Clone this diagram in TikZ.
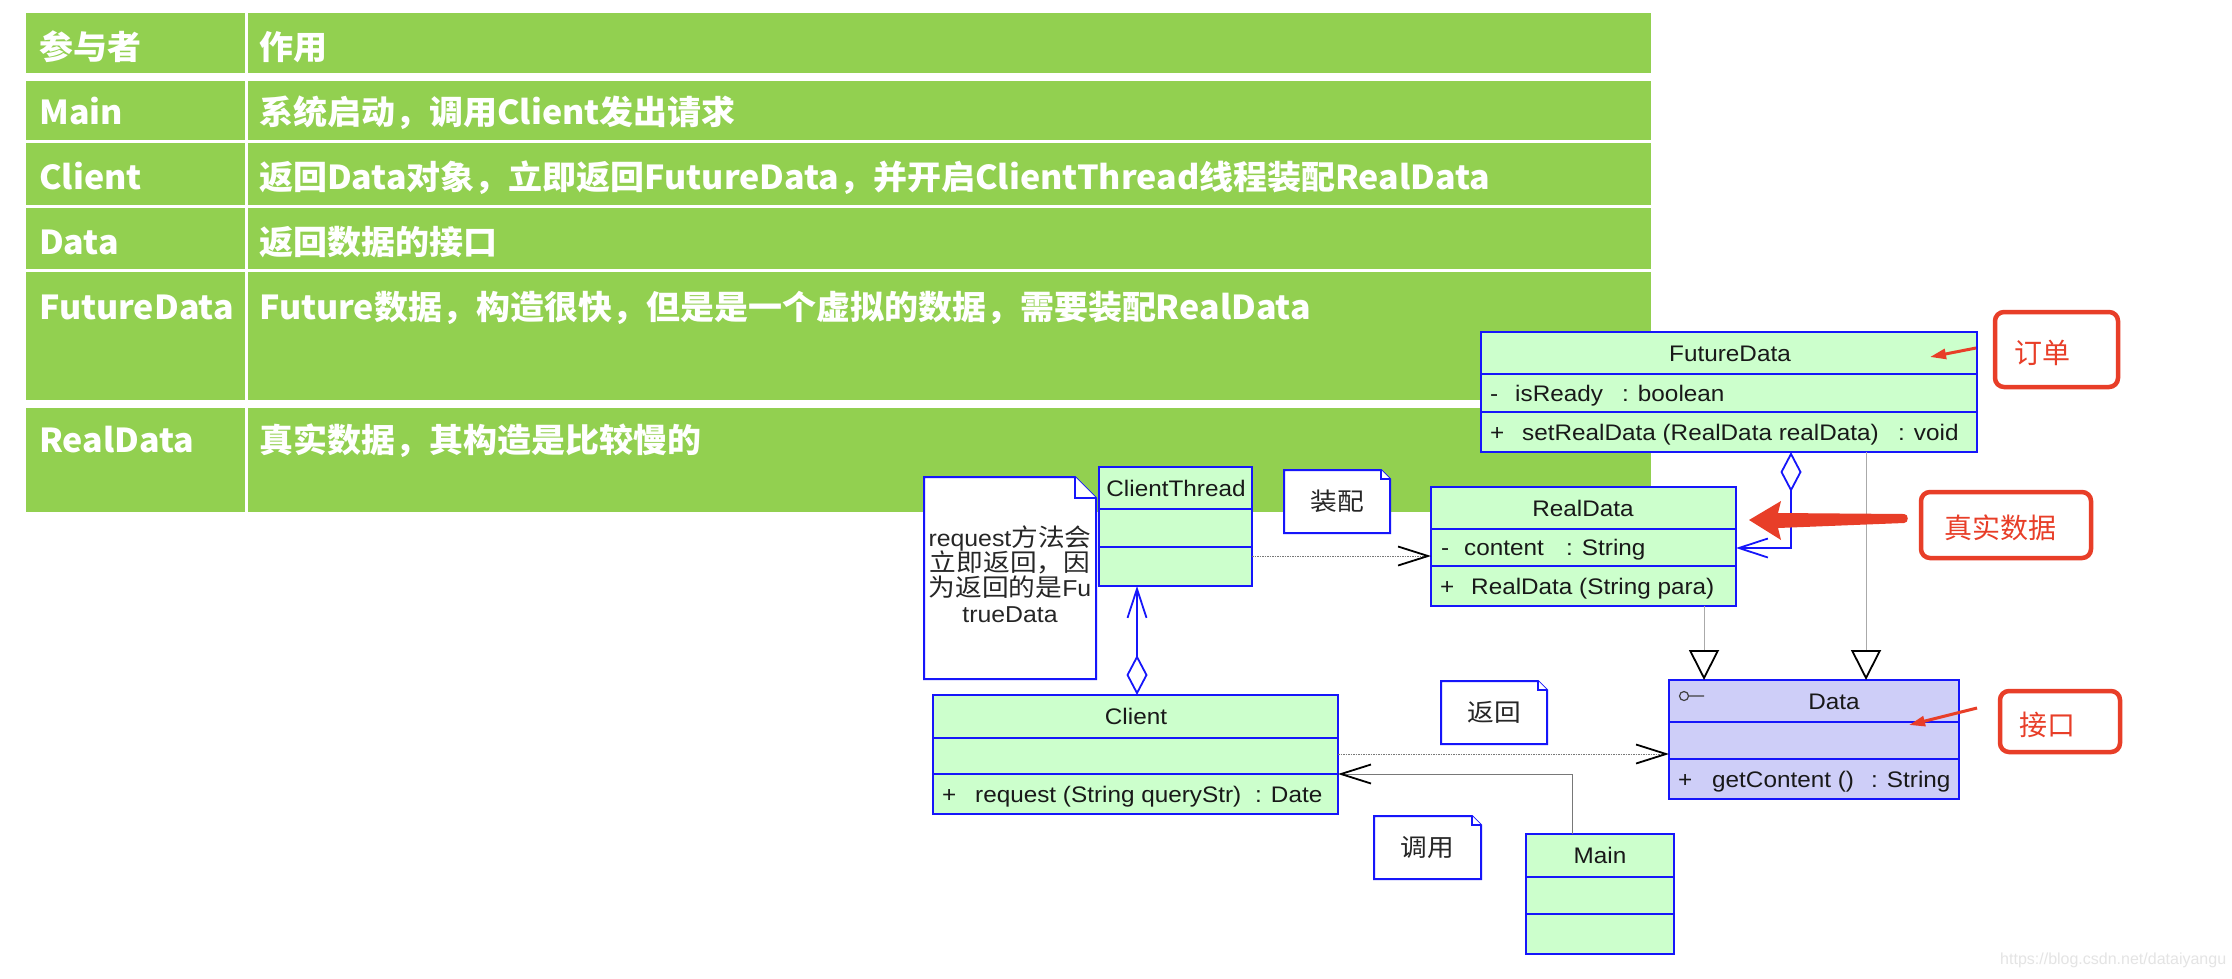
\documentclass[tikz,border=0pt]{standalone}
\usepackage{fontspec}
\setmainfont{Liberation Sans}
\newfontfamily\umlf[FakeStretch=1.08]{Liberation Sans}
\newfontfamily\tabf[FakeStretch=1.03]{Noto Sans CJK SC}
\newfontfamily\cjkn[FakeStretch=1.09]{Noto Sans CJK SC}
\newfontfamily\cjkr{Noto Sans CJK SC}
\usetikzlibrary{arrows.meta,calc}
\definecolor{tgreen}{RGB}{146,208,80}
\definecolor{ufill}{RGB}{204,255,204}
\definecolor{ublue}{RGB}{22,22,250}
\definecolor{dfill}{RGB}{206,206,248}
\definecolor{rred}{RGB}{232,62,40}
\definecolor{dgray}{RGB}{120,120,120}
\definecolor{lgray}{RGB}{170,170,170}
\definecolor{wm}{RGB}{228,228,228}
\tikzset{
  tabtxt/.style={anchor=west, inner sep=0pt, text=white, font=\tabf\bfseries\fontsize{33}{38}\selectfont, text height=29pt, text depth=4pt},
  cls/.style={draw=ublue, line width=2pt, fill=ufill, inner sep=0pt, outer sep=0pt, anchor=north west},
  clsline/.style={draw=ublue, line width=2pt},
  ut/.style={inner sep=0pt, text=black!90, font=\umlf\fontsize{22.5}{27}\selectfont, text height=19pt, text depth=3pt},
  utw/.style={ut, anchor=west},
  notest/.style={draw=ublue, line width=2pt, fill=white, line join=miter},
  nt/.style={inner sep=0pt, text=black!85, font=\umlf\fontsize{23}{25}\selectfont, text height=21pt, text depth=3pt},
  redbox/.style={draw=rred, line width=4.5pt, rounded corners=9pt, inner sep=0pt, fill=white},
  redtxt/.style={inner sep=0pt, text=rred, font=\cjkr\fontsize{28}{30}\selectfont, text height=24pt, text depth=3.5pt},
  dep/.style={draw=dgray, line width=1pt, dash pattern=on 1.5pt off 1pt, -{Straight Barb[length=30pt,width=19pt,line width=1.8pt,black]}},
  assoc/.style={draw=dgray, line width=1pt, -{Straight Barb[length=30pt,width=19pt,line width=1.8pt,black]}},
  gen/.style={draw=lgray, line width=1pt, -{Triangle[open,fill=white,length=30pt,width=30pt,line width=1.8pt,black]}},
  aggr/.style={draw=ublue, line width=1.5pt, {Diamond[open,fill=white,length=40pt,width=21pt,line width=1.8pt]}-{Straight Barb[length=29pt,width=19pt,line width=1.8pt]}},
  redarr/.style={draw=rred, line width=3pt, -{Triangle[length=16pt,width=10pt]}}
}
\newcommand{\notebox}[5]{%
  \filldraw[notest] (#1,#2) -- ({#3-#5},#2) -- (#3,{#2+#5}) -- (#3,#4) -- (#1,#4) -- cycle;
  \draw[notest] ({#3-#5},#2) -- ({#3-#5},{#2+#5}) -- (#3,{#2+#5});}
\newcommand{\cn}[1]{{\cjkn\fontsize{24.5}{25}\selectfont #1}}
\begin{document}
\begin{tikzpicture}[x=1pt,y=-1pt]
\useasboundingbox (0,0) rectangle (2232,978);
\fill[white] (0,0) rectangle (2232,978);

% ---------- table ----------
\foreach \a/\b in {13/73,81/140,143/205,208/269,272/400,408/512} {\fill[tgreen] (26,\a) rectangle (1651,\b);}
\fill[white] (244.5,13) rectangle (247.5,512);

\node[tabtxt] (h1) at (39,47) {参与者};
\node[tabtxt] (h2) at (259,47) {作用};
\node[tabtxt] (m1) at (39,112) {Main};
\node[tabtxt] (m2) at (259,112) {系统启动，调用Client发出请求};
\node[tabtxt] (c1) at (39,177) {Client};
\node[tabtxt] (c2) at (259,177) {返回Data对象，立即返回FutureData，并开启ClientThread线程装配RealData};
\node[tabtxt] (d1) at (39,242) {Data};
\node[tabtxt] (d2) at (259,242) {返回数据的接口};
\node[tabtxt] (f1) at (39,307) {FutureData};
\node[tabtxt] (f2) at (259,307) {Future数据，构造很快，但是是一个虚拟的数据，需要装配RealData};
\node[tabtxt] (r1) at (39,440) {RealData};
\node[tabtxt] (r2) at (259,440) {真实数据，其构造是比较慢的};

% ---------- notes ----------
\notebox{924}{477}{1096}{679}{21}
\node[nt] (nq1) at (1010,537) {request\cn{方法会}};
\node[nt] (nq2) at (1010,562) {\cn{立即返回，因}};
\node[nt] (nq3) at (1010,587) {\cn{为返回的是}Fu};
\node[nt] (nq4) at (1010,613) {trueData};
\notebox{1284}{470}{1390}{533}{9}
\node[nt] (nzp) at (1337,501) {\cn{装配}};
\notebox{1441}{681}{1547}{744}{9}
\node[nt] (nfh) at (1494,712) {\cn{返回}};
\notebox{1374}{816}{1481}{879}{9}
\node[nt] (ndy) at (1427,847) {\cn{调用}};

% ---------- classes ----------
\node[cls, minimum width=496pt, minimum height=120pt] (fd) at (1481,332) {};
\draw[clsline] (1481,374) -- (1977,374) (1481,412) -- (1977,412);
\node[ut] (fdn) at (1730,353) {FutureData};
\node[utw] (fda0) at (1490,393) {-};
\node[utw] (fda1) at (1515,393) {isReady};
\node[utw] (fda2) at (1622,393) {: boolean};
\node[utw] (fdo0) at (1490,432) {+};
\node[utw] (fdo1) at (1522,432) {setRealData (RealData realData)};
\node[utw] (fdo2) at (1898,432) {: void};

\node[cls, minimum width=305pt, minimum height=119pt] (rd) at (1431,487) {};
\draw[clsline] (1431,529) -- (1736,529) (1431,566) -- (1736,566);
\node[ut] (rdn) at (1583,508) {RealData};
\node[utw] (rda0) at (1441,547.5) {-};
\node[utw] (rda1) at (1464,547.5) {content};
\node[utw] (rda2) at (1566,547.5) {: String};
\node[utw] (rdo0) at (1440,586) {+};
\node[utw] (rdo1) at (1471,586) {RealData (String para)};

\node[cls, minimum width=153pt, minimum height=119pt] (ct) at (1099,467) {};
\draw[clsline] (1099,509) -- (1252,509) (1099,547) -- (1252,547);
\node[ut] (ctn) at (1176,488) {ClientThread};

\node[cls, minimum width=405pt, minimum height=119pt] (cl) at (933,695) {};
\draw[clsline] (933,738) -- (1338,738) (933,774) -- (1338,774);
\node[ut] (cln) at (1136,716) {Client};
\node[utw] (clo0) at (942,794) {+};
\node[utw] (clo1) at (975,794) {request (String queryStr)};
\node[utw] (clo2) at (1255,794) {: Date};

\node[cls, fill=dfill, minimum width=290pt, minimum height=119pt] (da) at (1669,680) {};
\draw[clsline] (1669,722) -- (1959,722) (1669,759) -- (1959,759);
\node[ut] (dan) at (1834,701) {Data};
\draw[black!75, line width=1.2pt] (1684,696) circle (4.5) (1688.5,696) -- (1704,696);
\node[utw] (dao0) at (1678,779) {+};
\node[utw] (dao1) at (1712,779) {getContent ()};
\node[utw] (dao2) at (1871,779) {: String};

\node[cls, minimum width=148pt, minimum height=120pt] (mn) at (1526,834) {};
\draw[clsline] (1526,877) -- (1674,877) (1526,914) -- (1674,914);
\node[ut] (mnn) at (1600,855) {Main};

% ---------- connectors ----------
\draw[dep] ($(ct.south east)+(0,-30)$) -- ($(rd.south west)+(0,-50)$);
\draw[aggr] ($(cl.north west)+(204,0)$) -- ($(ct.south west)+(38,0)$);
\draw[aggr] ($(fd.south west)+(310,0)$) |- ($(rd.north east)+(0,61)$);
\draw[gen] ($(rd.south west)+(273,0)$) -- ($(da.north west)+(35,0)$);
\draw[gen] ($(fd.south west)+(385,0)$) -- ($(da.north west)+(197,0)$);
\draw[dep] ($(cl.north east)+(0,59)$) -- ($(da.north west)+(0,74)$);
\draw[assoc] ($(mn.north west)+(46,0)$) |- ($(cl.south east)+(0,-40)$);

% ---------- red annotations ----------
\node[redbox, minimum width=123pt, minimum height=75pt] (bdd) at (2056.5,349.5) {};
\node[redtxt] (tdd) at (2042,353) {订单};
\node[redbox, minimum width=170pt, minimum height=66pt] (bzs) at (2006,525) {};
\node[redtxt] (tzs) at (2000,528) {真实数据};
\node[redbox, minimum width=120pt, minimum height=61pt] (bjk) at (2060,721.5) {};
\node[redtxt] (tjk) at (2047,725) {接口};

\coordinate (a1s) at (1976,348);
\coordinate (a1e) at (1930,357);
\draw[redarr] (a1s) -- (a1e);
\coordinate (a2s) at (1977,708);
\coordinate (a2e) at (1909,725);
\draw[redarr] (a2s) -- (a2e);
\fill[rred] (1749,520) -- (1781,501) -- (1778,513) -- (1904,514)
  .. controls (1909,514) and (1909,523) .. (1904,523) -- (1778,528) -- (1781,540) -- cycle;

% ---------- watermark ----------
\node[anchor=west, inner sep=0pt, text=wm, font=\fontsize{16}{18}\selectfont] (wmk) at (2000,960) {https://blog.csdn.net/dataiyangu};
\end{tikzpicture}
\end{document}
